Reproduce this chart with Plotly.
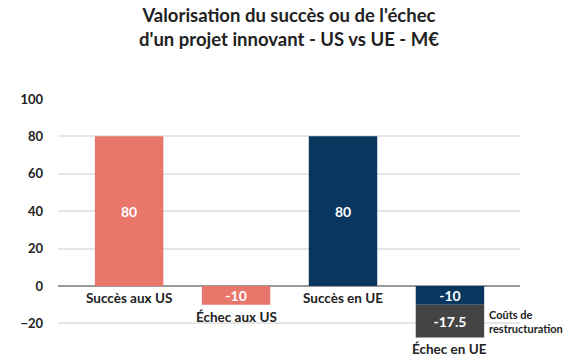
import plotly.graph_objects as go

categories = ["Succès aux US", "Échec aux US", "Succès en UE", "Échec en UE"]
main_values = [80, -10, 80, -10]
restructuring_values = [None, None, None, -17.5]
main_colors = ["#E8766A", "#E8766A", "#08365E", "#08365E"]
restructuring_color = "#444444"
restructuring_label = "Coûts de<br>restructuration"
title_text = "Valorisation du succès ou de l'échec<br>d'un projet innovant - US vs UE - M€"
y_ticks = [-40, -20, 0, 20, 40, 60, 80, 100]

x_idx = list(range(len(categories)))

fig = go.Figure()
fig.add_trace(go.Bar(
    x=x_idx, y=main_values, marker=dict(color=main_colors, line=dict(width=0)),
    text=[f"{v:g}" for v in main_values], textposition="inside",
    insidetextanchor="middle", textangle=0,
    textfont=dict(color="white", size=14, family="Lato", weight="bold"),
    width=0.64, hoverinfo="skip",
))
fig.add_trace(go.Bar(
    x=x_idx, y=restructuring_values, marker=dict(color=restructuring_color, line=dict(width=0)),
    text=[("" if v is None else f"{v:g}") for v in restructuring_values], textposition="inside",
    insidetextanchor="middle", textangle=0,
    textfont=dict(color="white", size=14, family="Lato", weight="bold"),
    width=0.64, hoverinfo="skip",
))

annotations = [dict(
    x=0.5, y=1.272, xref="paper", yref="paper", text=title_text, showarrow=False,
    xanchor="center", yanchor="middle", align="center",
    font=dict(family="Lato", size=18.5, color="#222222", weight="bold"),
)]
for i, cat in enumerate(categories):
    m = main_values[i]
    r = restructuring_values[i] or 0
    bottom = min(0, m) + min(0, r)
    annotations.append(dict(
        x=i, y=bottom, xref="x", yref="y", text=cat, showarrow=False,
        yanchor="top", yshift=-2,
        font=dict(family="Lato", size=13.5, color="#222222", weight="bold"),
    ))
    if restructuring_values[i] is not None:
        annotations.append(dict(
            x=i + 0.32, y=m + r / 2, xref="x", yref="y", text=restructuring_label,
            showarrow=False, xanchor="left", yanchor="middle", xshift=3, align="left",
            font=dict(family="Lato", size=11, color="#222222", weight="bold"),
        ))

fig.update_layout(
    width=577, height=350,
    margin=dict(l=50, r=65, t=90, b=0),
    paper_bgcolor="white", plot_bgcolor="white",
    barmode="relative", showlegend=False,
    xaxis=dict(range=[-0.665, 3.655], showticklabels=False, showgrid=False,
               zeroline=False, showline=False, fixedrange=True),
    yaxis=dict(range=[-38.5, 100.5], tickvals=y_ticks, showgrid=True,
               gridcolor="#E6E6E6", gridwidth=2, zeroline=True, zerolinecolor="#999999",
               zerolinewidth=2, ticklabelstandoff=14,
               tickfont=dict(family="Lato", size=13, color="#222222", weight="bold")),
    annotations=annotations,
    uniformtext=dict(minsize=14, mode="show"),
)

fig.write_html("out.html")
